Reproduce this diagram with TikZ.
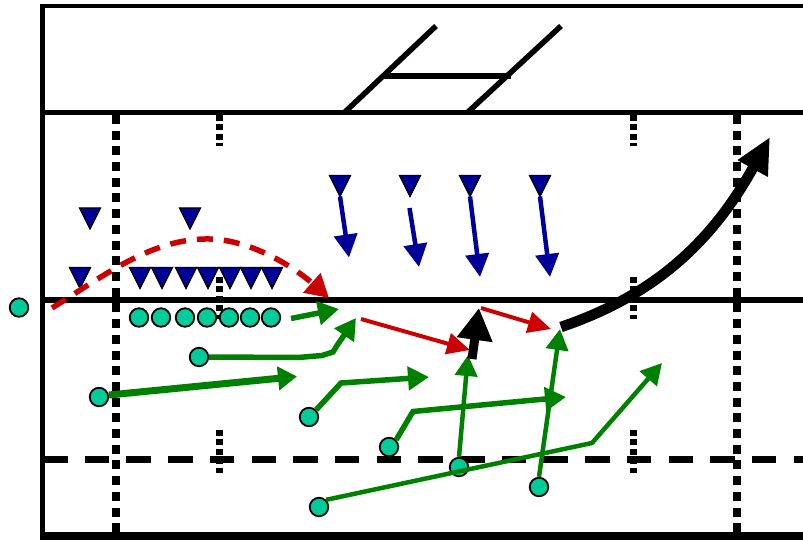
\documentclass[tikz,border=0pt]{standalone}
\usetikzlibrary{arrows.meta}
\definecolor{navyd}{RGB}{0,0,153}
\definecolor{tealp}{RGB}{0,204,153}
\definecolor{grn}{RGB}{0,128,0}
\definecolor{redo}{RGB}{204,0,0}
\tikzset{
  player/.style={circle,draw=black,fill=tealp,line width=1.8pt,minimum size=18.5pt,inner sep=0pt},
  dman/.pic={\draw[fill=navyd,line width=1.3pt,line join=miter] (-10.5,-10.5) -- (10.5,-10.5) -- (0,10.5) -- cycle;
             \coordinate (-tip) at (0,10.5);},
  fieldline/.style={line width=5.5pt},
  yardtick/.style={line width=8pt,dash pattern=on 9pt off 6.7pt},
  hashmark/.style={line width=7pt,dash pattern=on 5.8pt off 3.6pt},
  blueroute/.style={draw=navyd,line width=4.5pt,-{Triangle[length=23pt,width=23pt]}},
  greenroute/.style={draw=grn,line width=5.5pt,-{Triangle[length=21pt,width=23pt]}},
  thinroute/.style={draw=grn,line width=4.5pt,-{Triangle[length=21pt,width=22pt]}},
  redroute/.style={draw=redo,line width=4pt,-{Triangle[length=23pt,width=21pt]}},
  blackroute/.style={draw=black,line width=9pt,-{Triangle[length=32pt,width=34pt]}},
}
\begin{document}
\begin{tikzpicture}[x=1pt,y=-1pt]
\useasboundingbox (0,0) rectangle (803,540);
% field
\draw[line width=4pt] (42,6) -- (803,6);
\draw[line width=5pt] (42,4) -- (42,538);
\draw[fieldline] (42,112.5) -- (803,112.5);
\draw[fieldline] (42,300) -- (803,300);
\draw[line width=8.5pt] (40,536) -- (803,536);
\draw[line width=7pt,dash pattern=on 24.5pt off 17.2pt] (43,459.3) -- (803,459.3);
\draw[yardtick] (115.5,115) -- (115.5,532);
\draw[yardtick] (737,115) -- (737,532);
\foreach \x in {219,633}{
  \draw[hashmark] (\x,115) -- (\x,146);
  \draw[hashmark] (\x,277) -- (\x,319);
  \draw[hashmark] (\x,430) -- (\x,473);
}
% goal post
\draw[fieldline] (345,112) -- (436,26);
\draw[fieldline] (468,112) -- (561,26);
\draw[fieldline] (383,76) -- (511,76);
% defense
\pic (s1) at (90,218.5) {dman};
\pic (s2) at (190,218.5) {dman};
\foreach \x [count=\i] in {80,140,162,186,208,230,251,272}{
  \pic (dl\i) at (\x,278) {dman};
}
\pic (lb1) at (340,186) {dman};
\pic (lb2) at (410,186) {dman};
\pic (lb3) at (470,186) {dman};
\pic (lb4) at (540,186) {dman};
\coordinate (b1) at (349,257.5);
\coordinate (b2s) at (409.5,208);
\coordinate (b2) at (419,267);
\coordinate (b3) at (480,277);
\coordinate (b4) at (550,277);
\draw[blueroute] (lb1-tip) -- (b1);
\draw[blueroute] (b2s) -- (b2);
\draw[blueroute] (lb3-tip) -- (b3);
\draw[blueroute] (lb4-tip) -- (b4);
% red routes
\coordinate (r0) at (52,308);
\coordinate (rp) at (205,239);
\coordinate (r1) at (329,298);
\draw[draw=redo,line width=5.5pt,dash pattern=on 16pt off 11pt,-{Triangle[length=23pt,width=25pt]}]
  (r0) .. controls (105,275) and (150,240) .. (rp) .. controls (250,238) and (295,268) .. (r1);
\coordinate (r2s) at (361,319);
\coordinate (r2) at (470,350);
\coordinate (r3s) at (481,308);
\coordinate (r3) at (551,329);
\draw[redroute] (r2s) -- (r2);
\draw[redroute] (r3s) -- (r3);
% offense
\node[player] (wr) at (19,307.5) {};
\foreach \x [count=\i] in {139,161,185,207,229,250,271}{
  \node[player] (ol\i) at (\x,317.5) {};
}
\node[player] (p1) at (199,357) {};
\node[player] (p2) at (99,397) {};
\node[player] (p3) at (309,417) {};
\node[player] (p4) at (389,447) {};
\node[player] (p5) at (319,507) {};
\node[player] (p6) at (459,467) {};
\node[player] (p7) at (539,487) {};
% green routes
\coordinate (g0s) at (291,318.5);
\coordinate (g0) at (339,309);
\draw[greenroute] (g0s) -- (g0);
\coordinate (g1) at (356,318);
\draw[greenroute] (p1.east) -- (298,357.5) -- (322,355.5) -- (333,352) -- (338,344) -- (g1);
\coordinate (g2) at (297,376.5);
\draw[draw=grn,line width=7pt,-{Triangle[length=19pt,width=23pt]}] (109,395) -- (g2);
\coordinate (g3) at (429,377);
\draw[greenroute] (p3.north east) -- (341,383) -- (g3);
\coordinate (g4) at (566,397);
\draw[greenroute] (p4.north east) -- (413,411.5) -- (g4);
\coordinate (g5) at (468,355);
\draw[thinroute] (p6.north) -- (g5);
\coordinate (g6) at (560,329);
\draw[thinroute] (p7.north) -- (g6);
\coordinate (g7) at (662,363);
\draw[thinroute] (p5.north east) -- (592,443) -- (g7);
% black routes
\coordinate (k1s) at (472,359);
\coordinate (k1) at (479,308);
\draw[blackroute] (k1s) -- (k1);
\coordinate (k2s) at (561,327);
\coordinate (k2) at (770,137);
\draw[draw=black,line width=10.5pt,-{Triangle[length=36pt,width=32pt]}] (k2s) .. controls (640,300) and (705,255) .. (k2);
\end{tikzpicture}
\end{document}
